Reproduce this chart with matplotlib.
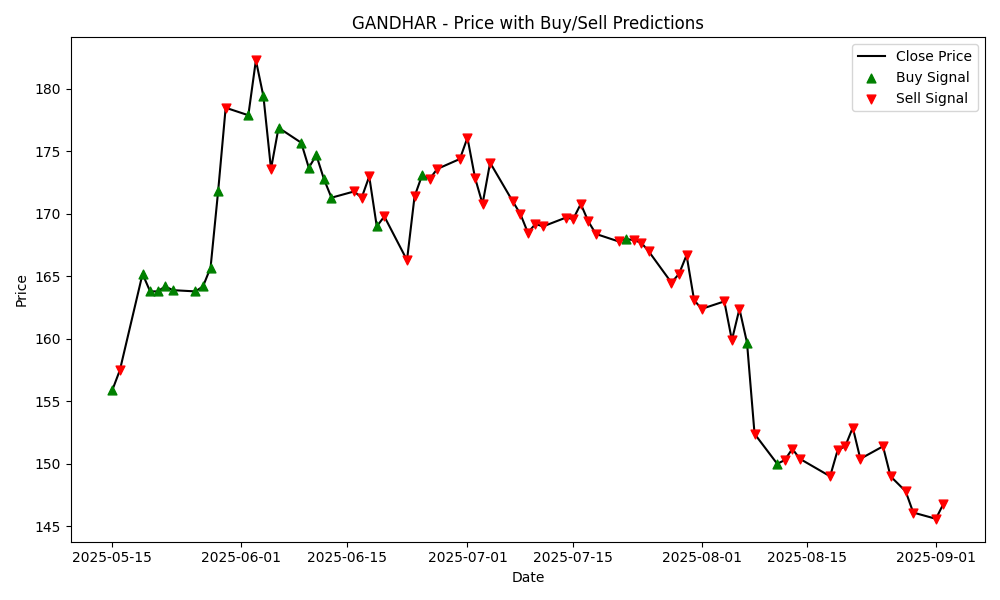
import matplotlib
matplotlib.use("Agg")
import matplotlib.pyplot as plt
import pandas as pd

dates = ["2025-05-15","2025-05-16","2025-05-19","2025-05-20","2025-05-21","2025-05-22","2025-05-23",
"2025-05-26","2025-05-27","2025-05-28","2025-05-29","2025-05-30","2025-06-02","2025-06-03","2025-06-04",
"2025-06-05","2025-06-06","2025-06-09","2025-06-10","2025-06-11","2025-06-12","2025-06-13","2025-06-16",
"2025-06-17","2025-06-18","2025-06-19","2025-06-20","2025-06-23","2025-06-24","2025-06-25","2025-06-26",
"2025-06-27","2025-06-30","2025-07-01","2025-07-02","2025-07-03","2025-07-04","2025-07-07","2025-07-08",
"2025-07-09","2025-07-10","2025-07-11","2025-07-14","2025-07-15","2025-07-16","2025-07-17","2025-07-18",
"2025-07-21","2025-07-22","2025-07-23","2025-07-24","2025-07-25","2025-07-28","2025-07-29","2025-07-30",
"2025-07-31","2025-08-01","2025-08-04","2025-08-05","2025-08-06","2025-08-07","2025-08-08","2025-08-11",
"2025-08-12","2025-08-13","2025-08-14","2025-08-18","2025-08-19","2025-08-20","2025-08-21","2025-08-22",
"2025-08-25","2025-08-26","2025-08-28","2025-08-29","2025-09-01","2025-09-02"]
close = [155.9,157.5,165.2,163.8,163.8,164.2,163.9,163.8,164.2,165.7,171.8,178.5,177.9,182.3,179.4,
173.6,176.9,175.7,173.7,174.7,172.8,171.3,171.8,171.3,173.0,169.0,169.8,166.3,171.4,173.1,172.8,
173.6,174.4,176.1,172.9,170.8,174.1,171.0,170.0,168.5,169.2,169.0,169.7,169.6,170.8,169.4,168.4,
167.8,168.0,167.9,167.7,167.0,164.5,165.2,166.7,163.1,162.4,163.0,159.9,162.4,159.7,152.4,150.0,
150.3,151.2,150.4,149.0,151.1,151.4,152.9,150.4,151.4,149.0,147.8,146.1,145.6,146.8]
signals = "BSBBBBBBBBBSBSBSBBBBBBSSSBSSSBSSSSSSSSSSSSSSSSSSBSSSSSSSSSSSBSBSSSSSSSSSSSSSS"

d = pd.to_datetime(dates)
fig, ax = plt.subplots(figsize=(10, 6), dpi=100)
ax.plot(d, close, color="black", label="Close Price", zorder=1)
bx = [d[i] for i, s in enumerate(signals) if s == "B"]
by = [close[i] for i, s in enumerate(signals) if s == "B"]
sx = [d[i] for i, s in enumerate(signals) if s == "S"]
sy = [close[i] for i, s in enumerate(signals) if s == "S"]
ax.scatter(bx, by, marker="^", color="green", s=40, label="Buy Signal", zorder=2)
ax.scatter(sx, sy, marker="v", color="red", s=40, label="Sell Signal", zorder=2)
ax.set_title("GANDHAR - Price with Buy/Sell Predictions")
ax.set_xlabel("Date")
ax.set_ylabel("Price")
ax.legend(loc="upper right")
fig.tight_layout()
fig.savefig("out.png")
